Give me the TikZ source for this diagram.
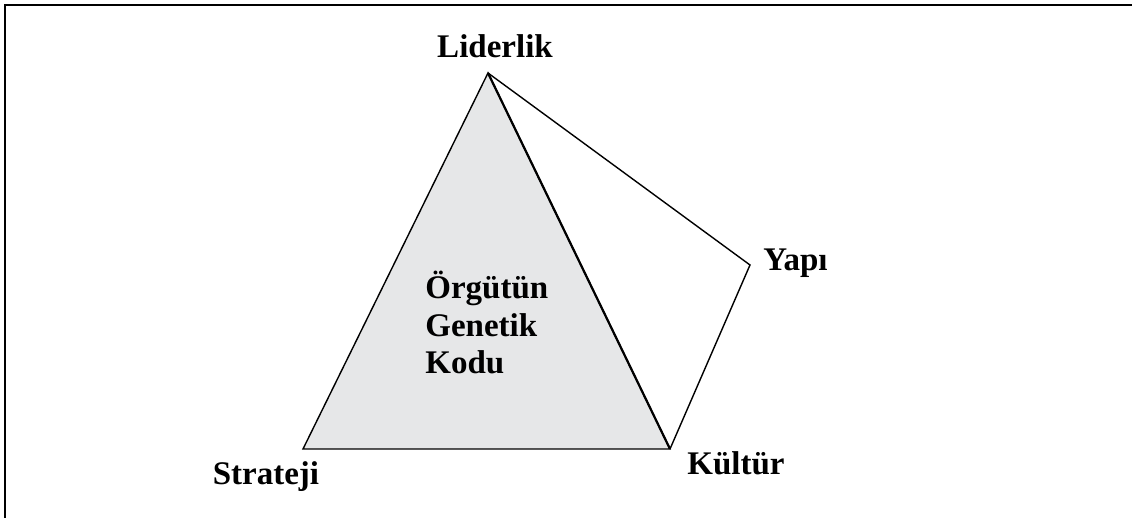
\documentclass[tikz,border=0pt]{standalone}
\usepackage{fontspec}
\setmainfont{Liberation Serif}
\usetikzlibrary{positioning}
\definecolor{codegray}{HTML}{E6E7E8}

\begin{document}
\begin{tikzpicture}[x=0.5pt, y=-0.5pt,
  font=\fontsize{16.5}{18.75}\selectfont\bfseries,
  lbl/.style={inner sep=0pt, anchor=base},
  side/.style={line width=0.7pt, line join=miter}]
\useasboundingbox (0,0) rectangle (1132,518);
\draw[line width=1.2pt] (5,518) -- (5,5) -- (1132,5);
% corners
\coordinate (lid) at (488,73);
\coordinate (str) at (303,449);
\coordinate (kul) at (670,449);
\coordinate (yap) at (750,265);
\fill[codegray] (lid) -- (str) -- (kul) -- cycle;
\draw[side] (lid) -- (str) -- (kul) -- cycle;
\draw[side] (lid) -- (yap) -- (kul);
\draw[line width=1.1pt] (lid) -- (kul);
% labels
\node[lbl] (lidtxt) at (495,58) {Liderlik};
\node[lbl, anchor=base west] (yaptxt) at (763,271) {Yapı};
\node[lbl, anchor=base west] (kultxt) at (687,475) {Kültür};
\node[lbl] (strtxt) at (266,485) {Strateji};
\node[lbl, anchor=base west, align=left] (kod) at (425,374) {Örgütün\\Genetik\\Kodu};
\end{tikzpicture}
\end{document}
